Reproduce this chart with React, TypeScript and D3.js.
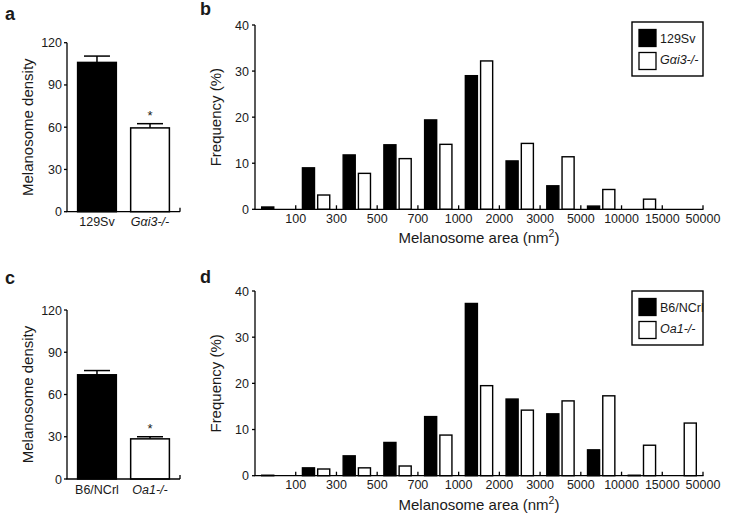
import React from "react";
import * as d3 from "d3";

// ---------- data ----------
const groupsA = ["129Sv", "Gαi3-/-"];
const densityA = [106, 59.5];
const errorA = [4.5, 3];
const groupsC = ["B6/NCrl", "Oa1-/-"];
const densityC = [74, 28.5];
const errorC = [3, 1.5];
const densityTicks = [0, 30, 60, 90, 120];

const binLabels = ["100", "300", "500", "700", "1000", "2000", "3000", "5000", "10000", "15000", "50000"];
const freqTicks = [0, 10, 20, 30, 40];
const b129Sv = [0.5, 9.0, 11.8, 14.0, 19.4, 29.0, 10.5, 5.1, 0.7, 0, 0];
const bGai3 = [0, 3.1, 7.8, 11.0, 14.1, 32.2, 14.3, 11.4, 4.3, 2.2, 0];
const dB6 = [0.1, 1.7, 4.3, 7.2, 12.8, 37.3, 16.6, 13.4, 5.6, 0.1, 0];
const dOa1 = [0, 1.45, 1.7, 2.1, 8.8, 19.5, 14.2, 16.2, 17.3, 6.6, 11.4];

const FONT = "'Liberation Sans', Arial, Helvetica, sans-serif";
const INK = "#1a1a1a";

function Label({ text, x, y, size, italic, anchor }: any) {
  return (
    <text x={x} y={y} fontSize={size} fontFamily={FONT} fill={INK} textAnchor={anchor || "start"}
      fontStyle={italic ? "italic" : "normal"}>{text}</text>
  );
}

function GroupLabel({ text, x, y }: any) {
  if (text === "Gαi3-/-") {
    return (
      <text x={x} y={y} fontSize={12.5} fontFamily={FONT} fill={INK} textAnchor="middle" fontStyle="italic">
        G<tspan>α</tspan>i3-/-
      </text>
    );
  }
  return <Label text={text} x={x} y={y} size={12.5} anchor="middle" italic={text === "Oa1-/-"} />;
}

function DensityPanel({ groups, values, errors, y0, y1, letter, letterY }: any) {
  const x = d3.scaleBand<string>().domain(groups).range([67, 180]).paddingInner(0.27).paddingOuter(0.2);
  const y = d3.scaleLinear().domain([0, 120]).range([y0, y1]);
  const fills = ["#000", "#fff"];
  return (
    <g>
      <text x={5} y={letterY} fontSize={18} fontWeight="bold" fontFamily={FONT} fill={INK}>{letter}</text>
      <text transform={`translate(33,${(y0 + y1) / 2}) rotate(-90)`} fontSize={15} fontFamily={FONT}
        fill={INK} textAnchor="middle">Melanosome density</text>
      {groups.map((g: string, i: number) => {
        const cx = (x(g) as number) + x.bandwidth() / 2;
        const top = y(values[i]);
        const et = y(values[i] + errors[i]);
        return (
          <g key={g}>
            <line x1={cx} x2={cx} y1={top} y2={et} stroke="#000" strokeWidth={1.5} />
            <line x1={cx - 13} x2={cx + 13} y1={et} y2={et} stroke="#000" strokeWidth={1.5} />
            <rect x={x(g) as number} y={top} width={x.bandwidth()} height={y0 - top}
              fill={fills[i]} stroke="#000" strokeWidth={1.5} />
            {i === 1 && <text x={cx} y={et - 4} fontSize={13} fontFamily={FONT} fill={INK} textAnchor="middle">*</text>}
            <GroupLabel text={g} x={cx} y={y0 + 14.5} />
          </g>
        );
      })}
      <line x1={67} x2={67} y1={y0} y2={y1} stroke="#000" strokeWidth={1.3} />
      <line x1={66.4} x2={180} y1={y0} y2={y0} stroke="#000" strokeWidth={1.3} />
      <line x1={180} x2={180} y1={y0} y2={y0 - 4} stroke="#000" strokeWidth={1.3} />
      {densityTicks.map((t) => (
        <g key={t}>
          <line x1={64} x2={67} y1={y(t)} y2={y(t)} stroke="#000" strokeWidth={1.3} />
          <Label text={String(t)} x={62} y={y(t) + 4.5} size={12.5} anchor="end" />
        </g>
      ))}
    </g>
  );
}

function HistPanel({ s1, s2, names, y0, y1, letter, letterY, legendTop }: any) {
  const idx = binLabels.map((_, i) => String(i));
  const x = d3.scaleBand<string>().domain(idx).range([255, 703]).padding(0);
  const inner = d3.scaleBand<string>().domain(["a", "b"]).range([0, x.bandwidth()]).paddingInner(0.13).paddingOuter(0.4);
  const y = d3.scaleLinear().domain([0, 40]).range([y0, y1]);
  const series = [s1, s2];
  const fills = ["#000", "#fff"];
  return (
    <g>
      <text x={200} y={letterY} fontSize={18} fontWeight="bold" fontFamily={FONT} fill={INK}>{letter}</text>
      <text transform={`translate(221,${(y0 + y1) / 2}) rotate(-90)`} fontSize={15} fontFamily={FONT}
        fill={INK} textAnchor="middle">Frequency (%)</text>
      {idx.map((k, i) =>
        series.map((s: number[], j: number) =>
          s[i] > 0 ? (
            <rect key={k + "-" + j} x={(x(k) as number) + (inner(j ? "b" : "a") as number) + 0.6}
              y={y(s[i])} width={inner.bandwidth() - 1.2} height={y0 - y(s[i])}
              fill={fills[j]} stroke="#000" strokeWidth={1.4} />
          ) : null
        )
      )}
      <line x1={255} x2={255} y1={y0} y2={y1} stroke="#000" strokeWidth={1.3} />
      <line x1={254.4} x2={703.5} y1={y0} y2={y0} stroke="#000" strokeWidth={1.3} />
      {freqTicks.map((t) => (
        <g key={t}>
          <line x1={252} x2={255} y1={y(t)} y2={y(t)} stroke="#000" strokeWidth={1.3} />
          <Label text={String(t)} x={249} y={y(t) + 4.5} size={12.5} anchor="end" />
        </g>
      ))}
      {binLabels.map((l, i) => {
        const bx = (x(String(i)) as number) + x.bandwidth();
        return (
          <g key={l}>
            <line x1={bx} x2={bx} y1={y0} y2={y0 - 4} stroke="#000" strokeWidth={1.3} />
            <Label text={l} x={bx} y={y0 + 13.5} size={12.5} anchor="middle" />
          </g>
        );
      })}
      <text x={479} y={y0 + 34} fontSize={15} fontFamily={FONT} fill={INK} textAnchor="middle">
        Melanosome area (nm<tspan dy={-6} fontSize={10.5}>2</tspan><tspan dy={6}>)</tspan>
      </text>
      <rect x={632} y={legendTop} width={71} height={54} fill="#fff" stroke="#000" strokeWidth={1.4} />
      {names.map((n: string, j: number) => (
        <g key={n}>
          <rect x={639} y={legendTop + 7.5 + j * 23} width={17} height={17} fill={fills[j]} stroke="#000" strokeWidth={1.3} />
          {n === "Gαi3-/-" ? (
            <text x={660} y={legendTop + 20.5 + j * 21.5} fontSize={12.5} fontFamily={FONT} fill={INK} fontStyle="italic">
              G<tspan>α</tspan>i3-/-
            </text>
          ) : (
            <Label text={n} x={660} y={legendTop + 20.5 + j * 21.5} size={12.5} italic={n === "Oa1-/-"} />
          )}
        </g>
      ))}
    </g>
  );
}

export default function App() {
  return (
    <svg width={729} height={519} viewBox="0 0 729 519"
      style={{ position: "absolute", left: 0, top: 0, background: "#fff" }}>
      <rect width={729} height={519} fill="#fff" />
      <DensityPanel groups={groupsA} values={densityA} errors={errorA} y0={211.7} y1={42.7} letter="a" letterY={20} />
      <DensityPanel groups={groupsC} values={densityC} errors={errorC} y0={479} y1={310} letter="c" letterY={284} />
      <HistPanel s1={b129Sv} s2={bGai3} names={["129Sv", "Gαi3-/-"]} y0={209.3} y1={25} letter="b" letterY={15} legendTop={22} />
      <HistPanel s1={dB6} s2={dOa1} names={["B6/NCrl", "Oa1-/-"]} y0={475.7} y1={291} letter="d" letterY={283} legendTop={291} />
    </svg>
  );
}
